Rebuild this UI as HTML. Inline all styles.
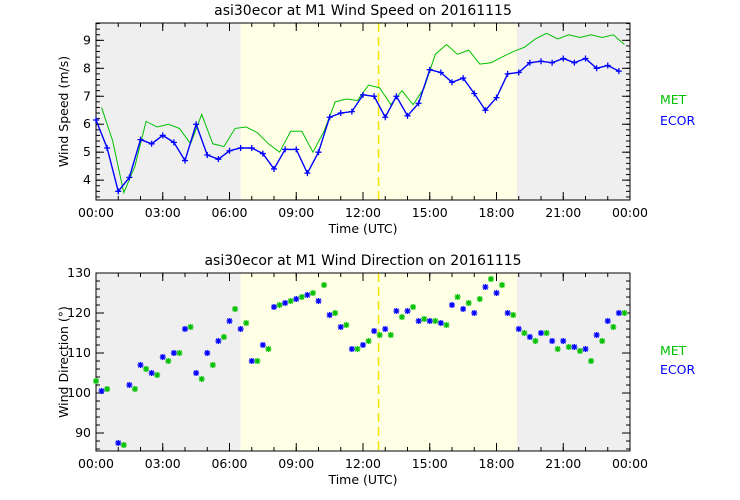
<!DOCTYPE html>
<html><head><style>body{margin:0;background:#fff}svg{display:block}text{font-family:"DejaVu Sans","Liberation Sans",sans-serif;font-size:12.5px;fill:#000}</style></head>
<body><svg id="s" width="740" height="500" xmlns="http://www.w3.org/2000/svg"></svg>
<script>
const s=document.getElementById('s');let h='';
const L=96,R=630,W=R-L,X=t=>L+t/24*W;
function panel(T,B,vmin,vmax,ticks,title,ylab){
 const Y=v=>B-(v-vmin)/(vmax-vmin)*(B-T);
 h+=`<rect x="${L}" y="${T}" width="${X(6.5)-L}" height="${B-T}" fill="#efefef"/>`;
 h+=`<rect x="${X(6.5)}" y="${T}" width="${X(18.92)-X(6.5)}" height="${B-T}" fill="#ffffe6"/>`;
 h+=`<rect x="${X(18.92)}" y="${T}" width="${R-X(18.92)}" height="${B-T}" fill="#efefef"/>`;
 h+=`<line x1="${X(12.7)}" y1="${T}" x2="${X(12.7)}" y2="${B}" stroke="#f5e600" stroke-width="1.5" stroke-dasharray="9,5"/>`;
 h+=`<rect x="${L}" y="${T}" width="${W}" height="${B-T}" fill="none" stroke="#000"/>`;
 for(let i=0;i<=8;i++){const x=X(i*3);h+=`<line x1="${x}" y1="${B}" x2="${x}" y2="${B-8}" stroke="#000"/><line x1="${x}" y1="${T}" x2="${x}" y2="${T+8}" stroke="#000"/><text x="${x}" y="${B+17}" text-anchor="middle">${String(i*3%24).padStart(2,'0')}:00</text>`;}
 for(let i=0;i<=24;i++){const x=X(i);h+=`<line x1="${x}" y1="${B}" x2="${x}" y2="${B-4}" stroke="#000"/><line x1="${x}" y1="${T}" x2="${x}" y2="${T+4}" stroke="#000"/>`;}
 h+=`<text x="${(L+R)/2}" y="${B+33}" text-anchor="middle">Time (UTC)</text>`;
 h+=`<text x="${(L+R)/2}" y="${T-8}" text-anchor="middle" style="font-size:14px">${title}</text>`;
 ticks.forEach(v=>{const y=Y(v);h+=`<line x1="${L}" y1="${y}" x2="${L+8}" y2="${y}" stroke="#000"/><line x1="${R}" y1="${y}" x2="${R-8}" y2="${y}" stroke="#000"/><text x="${L-5}" y="${y+4}" text-anchor="end">${v}</text>`;});
 const st=(ticks[1]-ticks[0])/5;for(let v=Math.ceil(vmin/st)*st;v<=vmax;v+=st){const y=Y(v);h+=`<line x1="${L}" y1="${y}" x2="${L+4}" y2="${y}" stroke="#000"/><line x1="${R}" y1="${y}" x2="${R-4}" y2="${y}" stroke="#000"/>`;}
 h+=`<text transform="translate(${L-28},${(T+B)/2}) rotate(-90)" text-anchor="middle">${ylab}</text>`;
 return Y;}
let Y=panel(23,200,3.29,9.62,[4,5,6,7,8,9],"asi30ecor at M1 Wind Speed on 20161115","Wind Speed (m/s)");
const b=[6.15,5.15,3.6,4.1,5.45,5.3,5.6,5.35,4.7,6.0,4.9,4.75,5.05,5.15,5.15,4.95,4.4,5.1,5.1,4.25,5.0,6.25,6.4,6.45,7.05,7.0,6.25,7.0,6.3,6.75,7.95,7.85,7.5,7.65,7.1,6.5,6.95,7.8,7.85,8.2,8.25,8.2,8.35,8.2,8.35,8.0,8.1,7.9];
const g=[6.6,5.4,3.55,4.5,6.1,5.9,6.0,5.85,5.3,6.35,5.3,5.2,5.85,5.9,5.7,5.3,5.0,5.75,5.75,5.0,5.75,6.8,6.9,6.85,7.4,7.3,6.7,7.2,6.7,7.3,8.5,8.85,8.5,8.65,8.15,8.2,8.4,8.6,8.75,9.05,9.25,9.05,9.2,9.1,9.2,9.1,9.2,8.85];
h+=`<polyline fill="none" stroke="#00c000" points="${g.map((v,i)=>X(i*.5+.25)+','+Y(v)).join(' ')}"/>`;
h+=`<polyline fill="none" stroke="#0000ff" stroke-width="1.4" points="${b.map((v,i)=>X(i*.5)+','+Y(v)).join(' ')}"/>`;
b.forEach((v,i)=>{const x=X(i*.5),y=Y(v);h+=`<path d="M${x-3},${y}h6M${x},${y-3}v6" stroke="#0000ff" stroke-width="1.3"/>`;});
h+=`<text x="660" y="104" style="fill:#00c000">MET</text><text x="660" y="125" style="fill:#0000ff">ECOR</text>`;
Y=panel(273,451,85.5,130,[90,100,110,120,130],"asi30ecor at M1 Wind Direction on 20161115","Wind Direction (°)");
const db=[[.25,100.5],[1,87.5],[1.5,102],[2,107],[2.5,105],[3,109],[3.5,110],[4,116],[4.5,105],[5,110],[5.5,113],[6,118],[6.5,116],[7,108],[7.5,112],[8,121.5],[8.5,122.5],[9,123.5],[9.5,124.5],[10,123],[10.5,119.5],[11,116.5],[11.5,111],[12,112],[12.5,115.5],[13,116],[13.5,120.5],[14,120.5],[14.5,118],[15,118],[15.5,117.5],[16,122],[16.5,121],[17,120],[17.5,126.5],[18,125],[18.5,120],[19,116],[19.5,114],[20,115],[20.5,113],[21,113],[21.5,111.5],[22,111],[22.5,114.5],[23,118],[23.5,120]];
const dg=[[0,103],[.5,101],[1.25,87],[1.75,101],[2.25,106],[2.75,104.5],[3.25,108],[3.75,110],[4.25,116.5],[4.75,103.5],[5.25,107],[5.75,114],[6.25,121],[6.75,117.5],[7.25,108],[7.75,111],[8.25,122],[8.75,123],[9.25,124],[9.75,125],[10.25,127],[10.75,120],[11.25,117],[11.75,111],[12.25,113],[12.75,114.5],[13.25,114.5],[13.75,119],[14.25,121.5],[14.75,118.5],[15.25,118],[15.75,117],[16.25,124],[16.75,122.5],[17.25,123.5],[17.75,128.5],[18.25,127],[18.75,119.5],[19.25,115],[19.75,113],[20.25,115],[20.75,111],[21.25,111.5],[21.75,110.5],[22.25,108],[22.75,113],[23.25,116.5],[23.75,120]];
function star(x,y,c){h+=`<path d="M${x-3},${y}h6M${x},${y-3}v6M${x-2.3},${y-2.3}l4.6,4.6M${x-2.3},${y+2.3}l4.6,-4.6" stroke="${c}" stroke-width="1.3"/>`;}
dg.forEach(p=>star(X(p[0]),Y(p[1]),'#00c000'));db.forEach(p=>star(X(p[0]),Y(p[1]),'#0000ff'));
h+=`<text x="660" y="355" style="fill:#00c000">MET</text><text x="660" y="374" style="fill:#0000ff">ECOR</text>`;
s.innerHTML=h;
</script></body></html>
